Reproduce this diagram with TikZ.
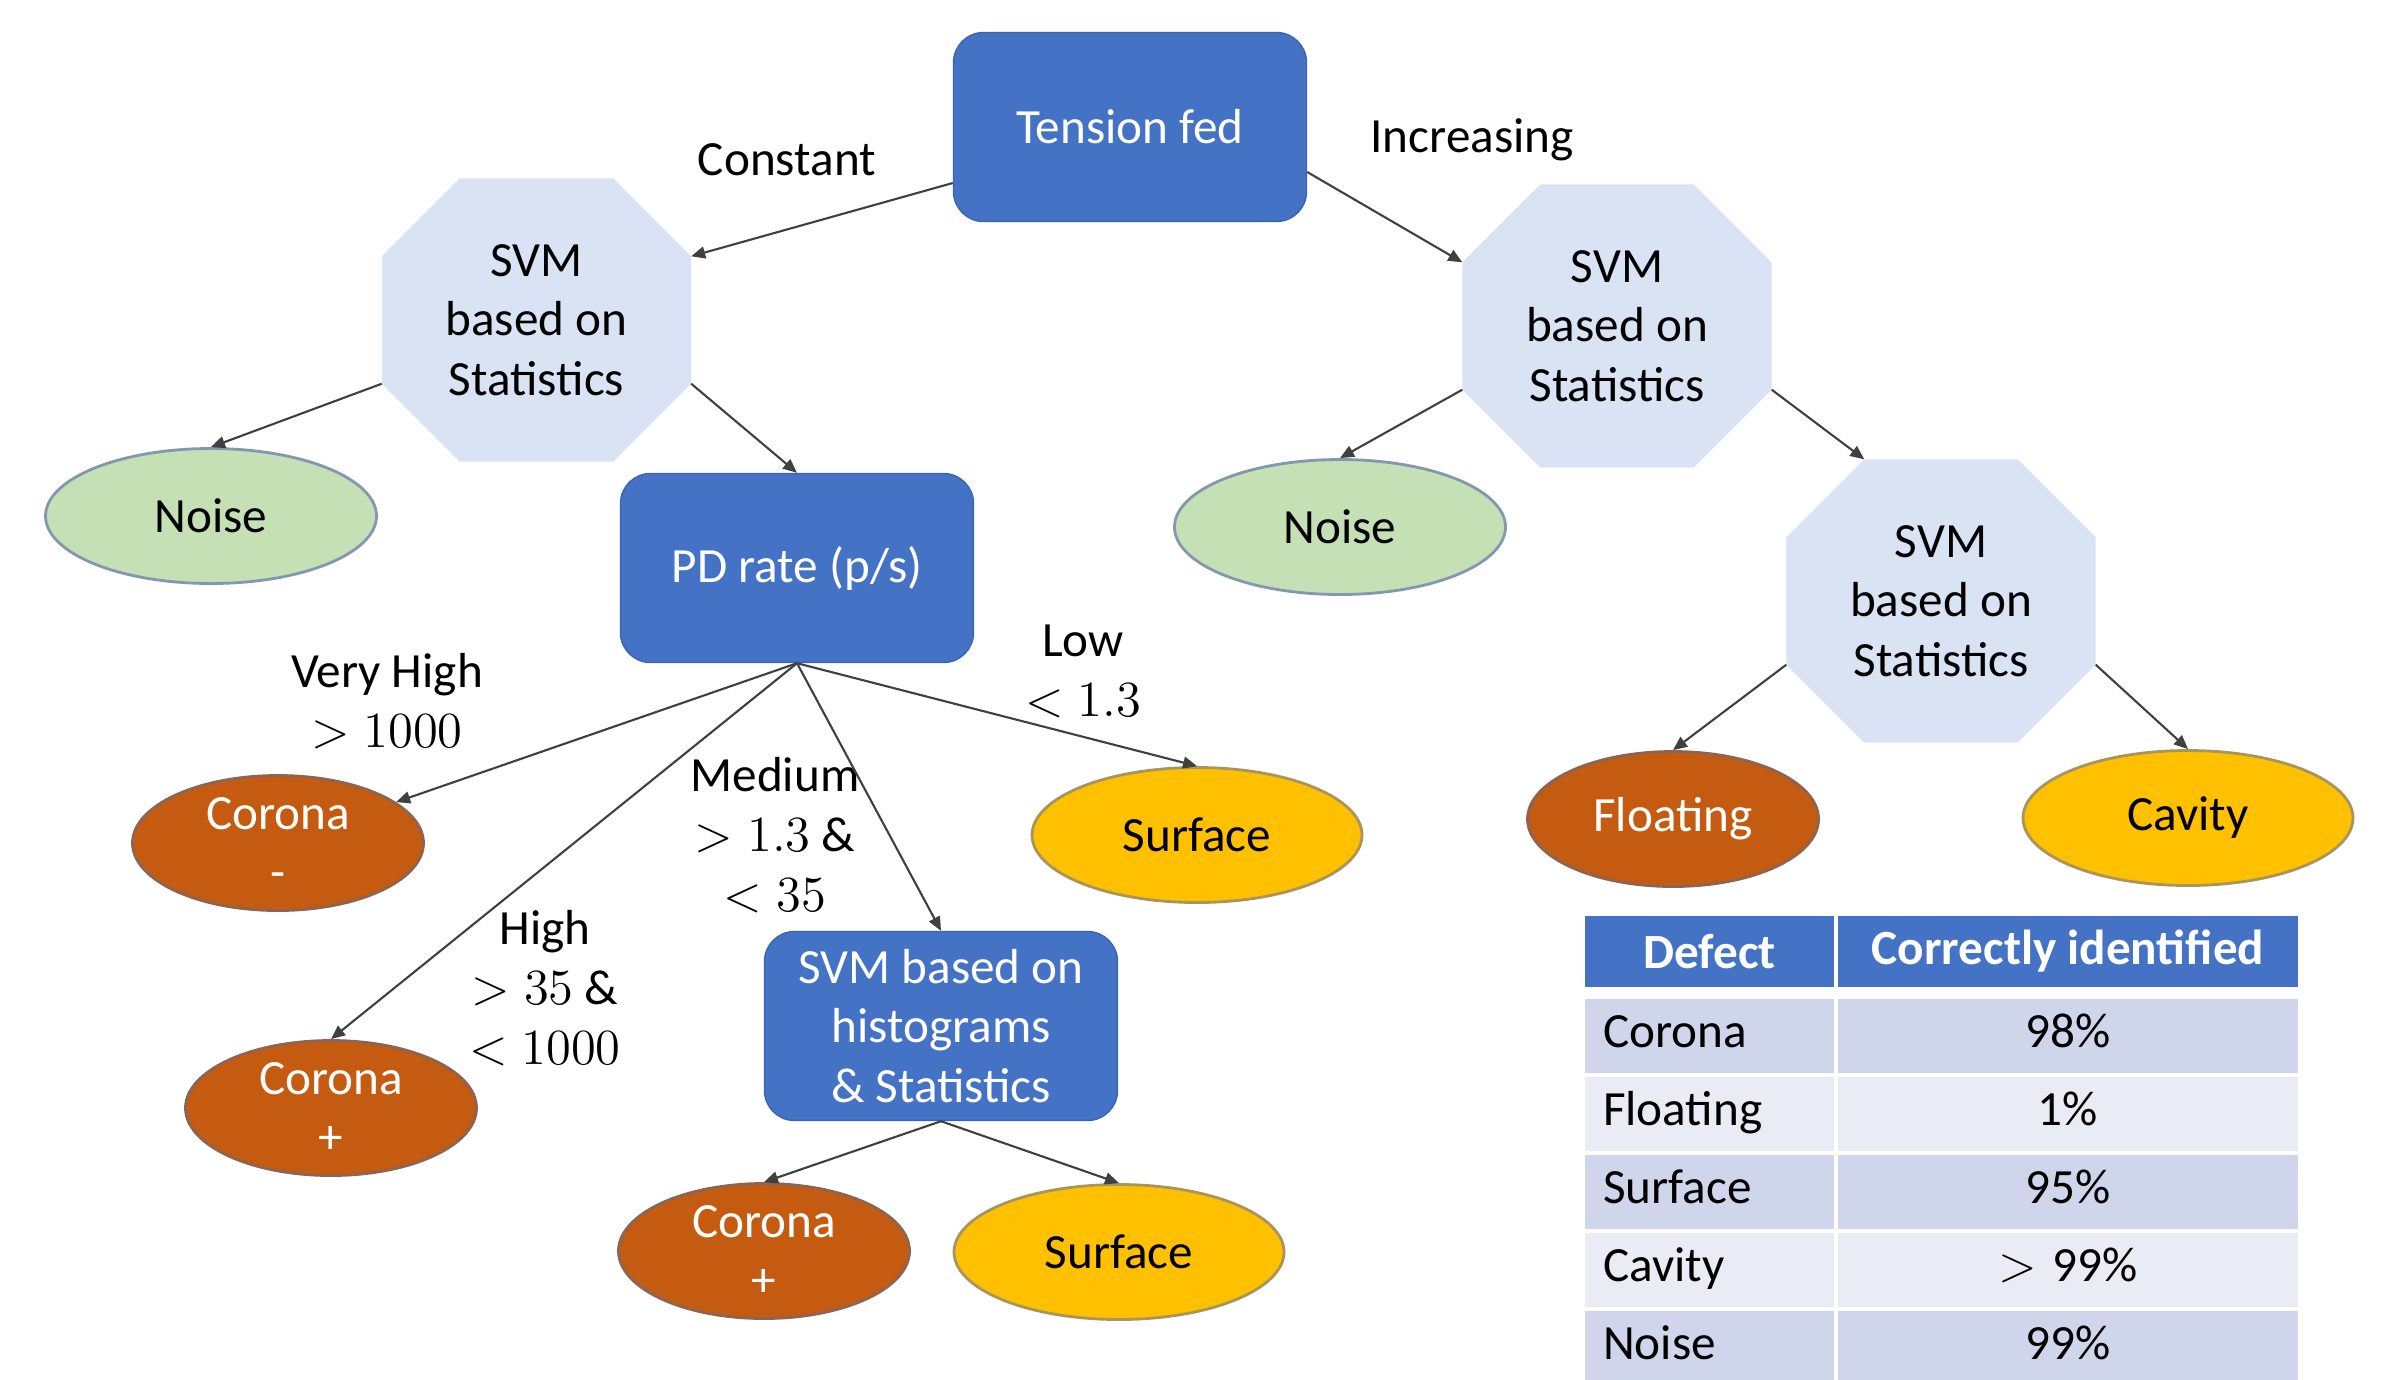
\documentclass[tikz,border=0pt]{standalone}
\usepackage[no-math]{fontspec}
\setmainfont{Carlito}
\usepackage{tikz}
\usetikzlibrary{arrows.meta,calc,shapes.geometric,backgrounds}
\definecolor{cBl}{HTML}{4472C4}
\definecolor{cBd}{HTML}{3B64AE}
\definecolor{cOc}{HTML}{DAE3F3}
\definecolor{cGr}{HTML}{C5E0B4}
\definecolor{cGd}{HTML}{8497B0}
\definecolor{cRu}{HTML}{C55A11}
\definecolor{cRd}{HTML}{8C6450}
\definecolor{cGo}{HTML}{FFC000}
\definecolor{cYd}{HTML}{A8955A}
\definecolor{cRa}{HTML}{CFD5EA}
\definecolor{cRb}{HTML}{E9EBF5}
\definecolor{cLn}{HTML}{404040}
\tikzset{
  bluebox/.style={rounded corners=3mm,draw=cBd,fill=cBl,text=white,
                  minimum width=3.53cm,minimum height=1.89cm,align=center,inner sep=2pt},
  svmoct/.style={minimum width=3.08cm,minimum height=2.82cm,align=center,inner sep=0pt},
  leaf/.style={ellipse,line width=0.8pt,minimum height=1.35cm,inner sep=0pt,align=center},
  noiseleaf/.style={leaf,draw=cGd,fill=cGr,minimum width=3.31cm},
  rustleaf/.style={leaf,draw=cRd,fill=cRu,text=white,minimum width=2.91cm},
  goldleaf/.style={leaf,draw=cYd,fill=cGo,minimum width=3.3cm},
  arr/.style={-{Triangle[length=1.4mm,width=1.2mm]},cLn,line width=0.6pt},
  lbl/.style={align=center,inner sep=0pt},
  thead/.style={draw=white,line width=1pt,fill=cBl,text=white,
                font=\fontsize{14}{17}\selectfont\bfseries,minimum height=0.75cm,inner sep=0pt},
  tcell/.style={draw=white,line width=1pt,minimum height=0.78cm,inner ysep=0pt,
                inner xsep=2mm,text height=9.5pt,text depth=3pt},
}
\begin{document}
\begin{tikzpicture}[font=\fontsize{14}{17}\selectfont]
  \useasboundingbox (0,0) rectangle (23.96,-13.79);
  \node[bluebox] (tens) at (11.30,-1.27) {Tension fed};
  \node[svmoct] (octL) at (5.365,-3.20) {SVM\\based on\\Statistics};
  \node[svmoct] (octR) at (16.17,-3.26) {SVM\\based on\\Statistics};
  \node[svmoct] (octC) at (19.41,-6.01) {SVM\\based on\\Statistics};
  \node[noiseleaf] (noiseL) at (2.11,-5.16) {Noise};
  \node[noiseleaf] (noiseR) at (13.40,-5.27) {Noise};
  \node[bluebox] (pd) at (7.97,-5.68) {PD rate (p/s)};
  \node[rustleaf] (corM) at (2.78,-8.43) {Corona\\-};
  \node[rustleaf] (corP) at (3.31,-11.08) {Corona\\+};
  \node[bluebox] (hist) at (9.41,-10.26) {SVM based on\\histograms\\\& Statistics};
  \node[rustleaf] (corB) at (7.64,-12.51) {Corona\\+};
  \node[goldleaf] (surfB) at (11.19,-12.52) {Surface};
  \node[goldleaf] (surfA) at (11.97,-8.35) {Surface};
  \node[rustleaf] (flt) at (16.73,-8.19) {Floating};
  \node[goldleaf] (cav) at (21.88,-8.18) {Cavity};

  \node[lbl] (lConst) at (7.87,-1.60) {Constant};
  \node[lbl] (lIncr) at (14.72,-1.40) {Increasing};
  \node[lbl] (lVH) at (3.87,-7.01) {Very High\\$>1000$};
  \node[lbl] (lMed) at (7.75,-8.35) {Medium\\$>1.3$ \&\\$<35$};
  \node[lbl] (lHigh) at (5.45,-9.88) {High\\$>35$ \&\\$<1000$};
  \node[lbl] (lLow) at (10.83,-6.71) {Low\\$<1.3$};

  \begin{scope}[on background layer]
    \foreach \o in {octL,octR,octC}
      \fill[cOc] ([xshift=7.8mm]\o.north west) -- ([xshift=-7.8mm]\o.north east)
        -- ([yshift=-7.8mm]\o.north east) -- ([yshift=7.8mm]\o.south east)
        -- ([xshift=-7.8mm]\o.south east) -- ([xshift=7.8mm]\o.south west)
        -- ([yshift=7.8mm]\o.south west) -- ([yshift=-7.8mm]\o.north west) -- cycle;
  \end{scope}

  \draw[arr] ([yshift=-5.6mm]tens.west) -- ([yshift=-7.8mm]octL.north east);
  \draw[arr] ([yshift=-4.5mm]tens.east) -- ([yshift=-7.8mm]octR.north west);
  \draw[arr] ([yshift=7.8mm]octL.south west) -- (noiseL.north);
  \draw[arr] ([yshift=7.8mm]octL.south east) -- (pd.north);
  \draw[arr] ([yshift=7.8mm]octR.south west) -- (noiseR.north);
  \draw[arr] ([yshift=7.8mm]octR.south east) -- ([xshift=7.8mm]octC.north west);
  \draw[arr] ([yshift=7.8mm]octC.south west) -- (flt.north);
  \draw[arr] ([yshift=7.8mm]octC.south east) -- (cav.north);
  \draw[arr] (pd.south) -- (corM);
  \draw[arr] (pd.south) -- (corP.north);
  \draw[arr] (pd.south) -- (hist.north);
  \draw[arr] (pd.south) -- (surfA.north);
  \draw[arr] (hist.south) -- (corB.north);
  \draw[arr] (hist.south) -- (surfB.north);

  \node[thead,minimum width=2.53cm] (hDef) at (17.095,-9.515) {Defect};
  \node[thead,minimum width=4.64cm] (hCor) at (20.68,-9.515) {Correctly identified};
  \foreach \nm/\pc/\rc [count=\i] in {Corona/98\%/cRa,Floating/1\%/cRb,
      Surface/95\%/cRa,Cavity/{$>$ 99\%}/cRb,Noise/99\%/cRa}{
    \node[tcell,fill=\rc,text width=2.13cm,align=left] (d\i) at (17.095,{-9.58-0.78*\i}) {\nm};
    \node[tcell,fill=\rc,text width=4.24cm,align=center] (p\i) at (20.68,{-9.58-0.78*\i}) {\pc};
  }
\end{tikzpicture}
\end{document}
